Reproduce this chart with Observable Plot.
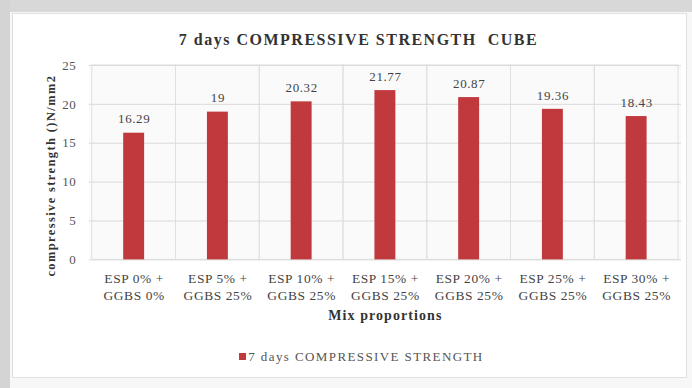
<!DOCTYPE html>
<html>
<head>
<meta charset="utf-8">
<script src="https://cdn.jsdelivr.net/npm/d3@7"></script>
<script src="https://cdn.jsdelivr.net/npm/@observablehq/plot@0.6"></script>
<style>
  html, body { margin: 0; padding: 0; }
  body { width: 692px; height: 388px; background: #f7f7f7; position: relative; overflow: hidden;
         font-family: "Liberation Serif", "Times New Roman", serif; }
  .band-top { position: absolute; left: 0; top: 0; width: 692px; height: 12px; background: #d8d8d8; }
  .band-left { position: absolute; left: 0; top: 0; width: 10px; height: 388px; background: #d4d4d4; }
  #panel { position: absolute; left: 12px; top: 13px; width: 675px; height: 365px; background: #fff;
           border: 1px solid #e0e0e0; box-sizing: border-box; }
  #title { position: absolute; left: 16px; top: 17px; width: 659px; text-align: center;
           font-weight: bold; font-size: 16px; letter-spacing: 1.5px; color: #333; }
  #chart { position: absolute; left: 0; top: 40px; }
  #legend { position: absolute; left: 22px; top: 335px; width: 653px; text-align: center;
            font-size: 13px; letter-spacing: 1.4px; color: #555; }
  #legend .sw { display: inline-block; width: 7px; height: 7px; background: #c0393d; margin-right: 2px; vertical-align: 1px; }
</style>
</head>
<body>
<div class="band-top"></div>
<div class="band-left"></div>
<div id="panel">
  <div id="title">7 days COMPRESSIVE STRENGTH&nbsp; CUBE</div>
  <div id="chart"></div>
  <div id="legend"><span class="sw"></span>7 days COMPRESSIVE STRENGTH</div>
</div>
<script>
// Mix proportions (x categories) and 7-day cube strength values
const mixes = [
  "ESP 0% +\nGGBS 0%",
  "ESP 5% +\nGGBS 25%",
  "ESP 10% +\nGGBS 25%",
  "ESP 15% +\nGGBS 25%",
  "ESP 20% +\nGGBS 25%",
  "ESP 25% +\nGGBS 25%",
  "ESP 30% +\nGGBS 25%"
];
const strength = [16.29, 19, 20.32, 21.77, 20.87, 19.36, 18.43];
const labels = ["16.29", "19", "20.32", "21.77", "20.87", "19.36", "18.43"];
const yTicks = [0, 5, 10, 15, 20, 25];

const rows = mixes.map((m, i) => ({mix: m, value: strength[i], label: labels[i]}));

const serif = "'Liberation Serif', 'Times New Roman', serif";

const chart = Plot.plot({
  width: 675,
  height: 280,
  marginLeft: 76,
  marginRight: 5,
  marginTop: 11,
  marginBottom: 74,
  style: {fontFamily: serif, fontSize: "13px", color: "#555", background: "transparent", letterSpacing: "0.6px", overflow: "visible"},
  x: {domain: mixes, padding: 0, label: null},
  y: {domain: [0, 25], label: null},
  marks: [
    Plot.frame({fill: "#fafafa", stroke: null}),
    // category cells: vertical grid boundaries
    Plot.barY(mixes, {x: d => d, y1: 0, y2: 25, fill: "none", stroke: "#e0e0e0", strokeWidth: 1}),
    Plot.gridY(yTicks, {stroke: "#dadada", strokeOpacity: 1}),
    Plot.barY(rows, {x: "mix", y: "value", fill: "#c0393d", insetLeft: 31.5, insetRight: 31.5}),
    Plot.text(rows, {x: "mix", y: "value", text: "label", dy: -14, fill: "#444", fontSize: 13, fontFamily: serif}),
    Plot.axisY({ticks: yTicks, tickSize: 0, tickPadding: 13, fontSize: 13, fontFamily: serif, label: null}),
    Plot.axisX({tickSize: 0, tickPadding: 11, fontSize: 13.5, fontFamily: serif, lineHeight: 1.25, label: null, fill: "#444"}),
    Plot.text(["Mix proportions"], {frameAnchor: "bottom", dy: 60, fontWeight: "bold", fontSize: 14, fontFamily: serif, fill: "#333"}),
    Plot.text(["compressive strength ()N/mm2"], {frameAnchor: "left", textAnchor: "middle", dx: -38, dy: 13, rotate: -90, fontWeight: "bold", fontSize: 12.5, fontFamily: serif, fill: "#333"})
  ]
});
// wider tracking on the axis titles
chart.querySelectorAll("text").forEach(t => {
  if (t.textContent === "compressive strength ()N/mm2") t.style.letterSpacing = "1.4px";
  if (t.textContent === "Mix proportions") t.style.letterSpacing = "1.1px";
});
document.getElementById("chart").appendChild(chart);
</script>
</body>
</html>
